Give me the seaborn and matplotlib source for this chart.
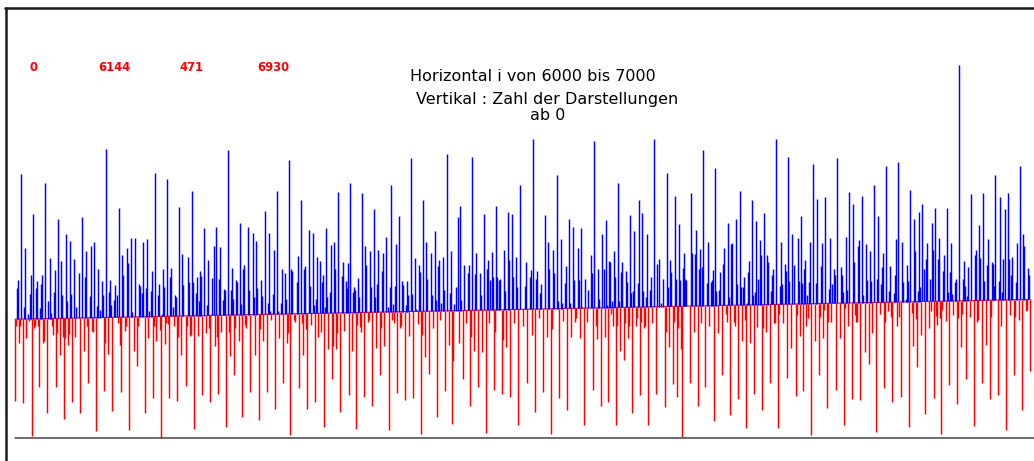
import numpy as np
import matplotlib
matplotlib.use("Agg")
import matplotlib.pyplot as plt
import seaborn as sns
from matplotlib.lines import Line2D

# ---------------- data ----------------
i_start, i_end = 6000, 7000
base_start, base_end = 150, 175          # reference line the bars start from

# values above the reference line (blue)
blue_i = [
    6002, 6003, 6006, 6009, 6010, 6013, 6015, 6016, 6018, 6021,
    6022, 6025, 6026, 6027, 6030, 6033, 6034, 6035, 6038, 6039,
    6042, 6045, 6046, 6050, 6051, 6054, 6055, 6058, 6060, 6063,
    6066, 6069, 6070, 6074, 6075, 6078, 6081, 6082, 6084, 6086,
    6087, 6090, 6093, 6094, 6095, 6098, 6099, 6100, 6102, 6105,
    6106, 6110, 6111, 6114, 6115, 6118, 6122, 6123, 6125, 6126,
    6129, 6130, 6132, 6134, 6135,
    6138, 6141, 6142, 6145, 6146, 6147, 6150, 6153, 6154, 6156,
    6158, 6159, 6162, 6165, 6166, 6170, 6171, 6174, 6175, 6178,
    6179, 6181, 6182, 6183, 6186, 6189, 6190, 6194, 6196, 6198,
    6201, 6202, 6205, 6206, 6207, 6210, 6213, 6214, 6215, 6218,
    6219, 6222, 6223, 6225, 6226, 6230, 6231, 6234, 6235, 6237,
    6238, 6242, 6243, 6246, 6249, 6250, 6251, 6254, 6255, 6258,
    6259, 6262, 6263, 6266, 6267, 6270, 6272, 6273, 6278, 6279,
    6282, 6285, 6286, 6290, 6291, 6294, 6295, 6297, 6298, 6300,
    6302, 6303, 6305, 6306, 6307, 6310, 6311, 6314, 6315, 6318,
    6322, 6323, 6326, 6327, 6328, 6330, 6333, 6334, 6335, 6338,
    6339, 6342, 6345, 6346, 6350, 6351, 6354, 6355, 6357, 6358,
    6362, 6363, 6366, 6367, 6369, 6370, 6372, 6374, 6375, 6378,
    6381, 6382, 6385, 6386, 6387, 6390, 6391, 6394, 6395, 6398,
    6399, 6402, 6405, 6406, 6410, 6411, 6414, 6415, 6417, 6418,
    6420, 6422, 6423,
    6426, 6429, 6430, 6433, 6434, 6436, 6438, 6439, 6442, 6446,
    6447, 6450, 6453, 6454, 6458, 6459, 6462, 6465, 6466, 6468,
    6470, 6471, 6474, 6475, 6477, 6478, 6482, 6483, 6486, 6487,
    6490, 6491, 6494, 6495, 6498, 6502, 6503, 6507, 6508, 6510,
    6513, 6514, 6517, 6518, 6522, 6525, 6526, 6530, 6531, 6534,
    6535, 6538, 6539, 6542, 6543, 6546, 6547, 6550, 6551, 6555,
    6556, 6558, 6559, 6562, 6565,
    6567, 6568, 6570, 6574, 6575, 6578, 6580, 6582, 6583, 6585,
    6586, 6588, 6590, 6591, 6594, 6595, 6597, 6598, 6602, 6603,
    6606, 6607, 6609, 6610, 6614, 6615, 6618, 6619, 6622, 6623,
    6626, 6627, 6630, 6633, 6634, 6636, 6638, 6642, 6643, 6645,
    6646, 6650, 6651, 6654, 6655, 6658, 6659, 6660, 6661, 6666,
    6667, 6670, 6671, 6674, 6675, 6677, 6678, 6682, 6683, 6686,
    6687, 6688, 6690, 6691, 6694, 6695, 6698, 6699, 6702, 6703,
    6705, 6706,
    6710, 6711, 6714, 6715, 6717, 6718, 6721, 6722, 6723, 6726,
    6727, 6729, 6730, 6732, 6734, 6735, 6738, 6741, 6742, 6745,
    6746, 6747, 6750, 6754, 6755, 6756, 6759, 6760, 6762, 6763,
    6766, 6767, 6771, 6772, 6774, 6775, 6777, 6778, 6780, 6782,
    6783, 6786, 6789, 6790, 6794, 6795, 6798, 6802, 6803, 6805,
    6807, 6808, 6810, 6814, 6815, 6816, 6819, 6820, 6822, 6826,
    6827, 6831, 6832, 6834, 6835, 6838, 6839, 6842, 6843, 6846,
    6849, 6850,
    6853, 6854, 6855, 6858, 6861, 6862, 6866, 6867, 6868, 6870,
    6874, 6875, 6878, 6879, 6880, 6882, 6886, 6887, 6890, 6891,
    6892, 6894, 6896, 6898, 6899, 6901, 6903, 6904, 6906, 6909,
    6910, 6914, 6915, 6918, 6919, 6921, 6922, 6923, 6926, 6927,
    6930, 6934, 6935, 6936, 6938, 6939, 6942, 6946, 6947, 6950,
    6951, 6954, 6955, 6958, 6959, 6963, 6964, 6965, 6966, 6969,
    6970, 6972, 6973, 6975, 6978, 6979, 6981, 6982, 6986, 6987,
    6990, 6993, 6994, 6998, 6999,
]
blue_v = [
    189, 200, 333, 165, 240, 157, 182, 206, 283, 189,
    198, 164, 195, 206, 322, 173, 227, 158, 184, 212,
    277, 224, 180, 258, 173, 249, 182, 226, 166, 208,
    279, 203, 236, 179, 242, 248, 167, 214, 161, 198,
    180, 365, 184, 200, 168, 174, 193, 181, 291, 231,
    206, 240, 221, 253, 159, 253, 194, 192, 183, 247,
    189, 251, 160, 186, 211,
    335, 181, 194, 157, 213, 191, 327, 203, 215, 166,
    181, 178, 292, 232, 193, 229, 197, 312, 197, 183,
    203, 173, 211, 205, 265, 168, 225, 202, 243, 267,
    201, 241, 174, 188, 187, 364, 187, 215, 176, 199,
    197, 272, 169, 214, 218, 267, 187, 259, 178, 249,
    190, 199, 179, 286, 171, 259, 160, 182, 238, 312,
    160, 171, 214, 208, 176, 351, 214, 211, 197, 230,
    300, 214, 217, 262, 192, 259, 168, 176, 229, 223,
    197, 206, 166, 265, 178, 184, 244, 248, 214, 310,
    204, 222, 198, 189, 221, 322, 184, 191, 187, 202,
    178, 309, 242, 218, 236, 191, 289, 178, 195, 237,
    211, 233, 254, 166, 191, 320, 169, 192, 245, 280,
    198, 193, 168, 198, 181, 353, 182, 227, 163, 219,
    210, 300, 248, 201, 234, 181, 261, 174, 217, 225,
    170, 229, 187,
    359, 183, 236, 169, 191, 279, 293, 174, 219, 208,
    219, 355, 207, 234, 208, 180, 283, 214, 225, 199,
    235, 203, 293, 203, 199, 201, 237, 186, 285, 225,
    283, 203, 229, 191, 320, 192, 222, 203, 212, 377,
    201, 211, 183, 194, 282, 248, 213, 237, 208, 332,
    173, 251, 171, 196, 217, 277, 170, 267, 199, 240,
    199, 265, 166, 201, 187,
    231, 208, 375, 213, 176, 258, 213, 275, 168, 223,
    222, 173, 236, 203, 322, 173, 210, 222, 211, 197,
    282, 183, 185, 261, 196, 301, 284, 185, 178, 258,
    187, 203, 377, 220, 226, 170, 201, 334, 191, 225,
    209, 306, 201, 270, 199, 215, 233, 201, 199, 309,
    233, 232, 263, 213, 239, 216, 364, 196, 248, 197,
    199, 212, 341, 186, 187, 210, 220, 240, 272, 178,
    245, 246,
    276, 194, 312, 191, 191, 203, 170, 210, 223, 301,
    181, 184, 274, 201, 250, 231, 284, 231, 222, 186,
    206, 213, 377, 192, 248, 194, 220, 211, 355, 198,
    258, 218, 253, 198, 280, 196, 213, 225, 181, 197,
    248, 346, 196, 302, 217, 246, 304, 188, 252, 194,
    213, 206, 353, 216, 206, 184, 254, 187, 310, 296,
    222, 243, 250, 306, 181, 245, 200, 236, 198, 320,
    201, 280,
    194, 216, 234, 343, 186, 217, 183, 206, 251, 349,
    248, 197, 176, 218, 198, 313, 276, 236, 185, 285,
    191, 295, 213, 226, 246, 201, 271, 238, 291, 226,
    253, 211, 231, 291, 184, 210, 246, 182, 197, 201,
    471, 201, 223, 192, 179, 216, 308, 231, 237, 269,
    227, 309, 198, 219, 251, 222, 220, 192, 332, 198,
    304, 184, 226, 289, 309, 226, 206, 229, 197, 246,
    344, 257, 242, 215, 206,
]

# values below the reference line (red)
red_i = [
    6000, 6001, 6004, 6005, 6008, 6011, 6014, 6017, 6019, 6020,
    6023, 6024, 6028, 6029, 6032, 6036, 6037, 6040, 6041, 6044,
    6047, 6048, 6049, 6052, 6053, 6056, 6059, 6064, 6068, 6071,
    6072, 6076, 6077, 6080, 6088, 6089, 6092, 6096, 6101, 6103,
    6104, 6108, 6109, 6112, 6117, 6120, 6121, 6128, 6131, 6136,
    6137,
    6139, 6143, 6144, 6148, 6149, 6151, 6152, 6157, 6160, 6161,
    6164, 6168, 6169, 6172, 6173, 6176, 6180, 6184, 6188, 6191,
    6192, 6197, 6199, 6200, 6203, 6208, 6211, 6212, 6216, 6217,
    6221, 6224, 6227, 6228, 6232, 6236, 6240, 6241, 6244, 6248,
    6252, 6256, 6260, 6264, 6268, 6269, 6271, 6275, 6276, 6280,
    6283, 6284, 6287, 6288, 6292, 6296, 6299, 6301, 6304, 6308,
    6312, 6313, 6316, 6317, 6320, 6324, 6329, 6332, 6336, 6337,
    6340, 6341, 6344, 6348, 6349, 6352, 6356, 6360, 6361, 6364,
    6368, 6371, 6373, 6376, 6379, 6380, 6384, 6388, 6392, 6397,
    6400, 6401, 6404, 6408, 6412, 6416, 6419,
    6424, 6428, 6431, 6432, 6437, 6441, 6444, 6448, 6449, 6452,
    6456, 6460, 6464, 6467, 6472, 6473, 6480, 6481, 6484, 6488,
    6492, 6496, 6500, 6504, 6509, 6512, 6516, 6520, 6524, 6528,
    6529, 6536, 6540, 6544, 6548, 6552, 6553, 6557, 6561, 6564,
    6569, 6572, 6573, 6577, 6581, 6584, 6587, 6589, 6592, 6593,
    6596, 6600, 6601, 6604, 6605, 6608, 6612, 6613, 6616, 6617,
    6620, 6621, 6624, 6628, 6632, 6640, 6641, 6644, 6648, 6649,
    6652, 6653, 6656, 6657, 6665, 6669, 6673, 6676, 6680, 6684,
    6689, 6693, 6697, 6700, 6701, 6704, 6708,
    6709, 6712, 6716, 6719, 6720, 6724, 6728, 6731, 6736, 6737,
    6740, 6744, 6748, 6749, 6752, 6753, 6757, 6761, 6765, 6769,
    6770, 6773, 6776, 6779, 6781, 6784, 6788, 6792, 6793, 6796,
    6797, 6800, 6801, 6804, 6809, 6813, 6817, 6818, 6821, 6825,
    6828, 6829, 6830, 6833, 6837, 6841, 6844, 6848,
    6852, 6856, 6857, 6860, 6863, 6864, 6869, 6871, 6873, 6881,
    6884, 6885, 6888, 6889, 6893, 6897, 6900, 6902, 6905, 6907,
    6908, 6911, 6912, 6913, 6917, 6920, 6924, 6928, 6929, 6932,
    6933, 6937, 6941, 6945, 6948, 6949, 6953, 6957, 6961, 6962,
    6968, 6971, 6976, 6980, 6984, 6985, 6989, 6992, 6996, 6997,
    7000,
]
red_v = [
    47, 141, 120, 141, 44, 126, 148, 2, 139, 141,
    141, 64, 120, 122, 31, 141, 130, 64, 133, 105,
    127, 24, 126, 117, 131, 45, 127, 31, 110, 141,
    69, 135, 134, 9, 59, 120, 106, 34, 145, 117,
    58, 135, 141, 10, 110, 91, 141, 32, 126, 50,
    141,
    123, 136, 0, 119, 145, 144, 50, 141, 47, 127,
    105, 66, 141, 129, 130, 11, 129, 54, 132, 139,
    46, 116, 128, 55, 134, 14, 134, 104, 79, 139,
    122, 27, 143, 139, 58, 105, 23, 137, 123, 58,
    149, 36, 126, 70, 120, 132, 4, 149, 147, 63,
    145, 105, 137, 37, 143, 45, 127, 134, 14, 113,
    75, 116, 113, 132, 33, 135, 54, 110, 11, 143,
    140, 134, 52, 146, 149, 40, 114, 80, 139, 116,
    10, 149, 145, 57, 139, 141, 48, 129, 50, 144,
    5, 130, 102, 81, 139, 27, 149,
    59, 117, 18, 97, 120, 75, 145, 40, 128, 110,
    64, 108, 6, 145, 61, 134, 56, 124, 115, 52,
    145, 16, 141, 69, 130, 33, 151, 58, 128, 5,
    137, 50, 148, 35, 128, 146, 151, 126, 16, 147,
    61, 141, 125, 40, 128, 46, 157, 141, 16, 141,
    110, 98, 145, 126, 141, 32, 141, 151, 54, 147,
    139, 142, 16, 145, 56, 39, 134, 115, 68, 147,
    52, 139, 113, 1, 70, 134, 40, 145, 64, 141,
    21, 132, 80, 157, 147, 29, 147,
    142, 49, 122, 149, 13, 120, 56, 140, 35, 139,
    134, 69, 145, 145, 13, 157, 145, 76, 114, 53,
    155, 129, 59, 141, 152, 4, 122, 80, 153, 126,
    162, 38, 147, 147, 61, 126, 17, 164, 141, 49,
    155, 147, 146, 48, 109, 94, 132, 8,
    157, 63, 146, 160, 153, 46, 141, 153, 52, 14,
    158, 116, 150, 90, 130, 30, 139, 160, 51, 154,
    143, 151, 5, 161, 148, 67, 155, 43, 151, 115,
    157, 75, 153, 15, 147, 149, 70, 117, 49, 153,
    54, 141, 10, 155, 80, 153, 149, 35, 160, 162,
    84,
]

stat_labels = ["0", "6144", "471", "6930"]
title_lines = ["Horizontal i von 6000 bis 7000",
               "Vertikal : Zahl der Darstellungen",
               "ab 0"]

# ---------------- figure ----------------
sns.set_style("white")
plt.rcParams["font.family"] = ["DejaVu Sans"]

W, H = 1034, 461
fig = plt.figure(figsize=(W / 100, H / 100), dpi=100)
fig.patch.set_facecolor("white")
ax = fig.add_axes([0, 0, 1, 1])

# scale: i -> pixels, value -> pixels
x0_px, px_per_i = 15.0, 1.015
y0_px, px_per_v = 438.0, 0.792
ax.set_xlim(i_start - x0_px / px_per_i, i_start + (W - x0_px) / px_per_i)
ax.set_ylim((y0_px - H) / px_per_v, y0_px / px_per_v)
ax.axis("off")


def base_at(i):
    i = np.asarray(i, dtype=float)
    return base_start + (base_end - base_start) * (i - i_start) / (i_end - i_start)


bi = np.array(blue_i)
bv = np.array(blue_v)
ri = np.array(red_i)
rv = np.array(red_v)

# reference line
ax.plot([i_start, i_end], [base_start, base_end], color="#ff0000", lw=0.8, zorder=2)

ax.vlines(bi, base_at(bi), bv, colors="#0000ff", linewidth=1.05, zorder=3)
ax.vlines(ri, rv, base_at(ri), colors="#ff0000", linewidth=1.05, zorder=3)

# zero line at the bottom
ax.plot([i_start - 0.1, ax.get_xlim()[1]], [0, 0], color="#444444", lw=1.1, zorder=1)

# window frame (left and top)
fig.add_artist(Line2D([6 / W, 6 / W], [0, 1 - 8 / H], transform=fig.transFigure,
                      color="#1a1a1a", lw=1.8))
fig.add_artist(Line2D([5 / W, 1], [1 - 8.5 / H, 1 - 8.5 / H], transform=fig.transFigure,
                      color="#1a1a1a", lw=1.8))

# red statistics labels
for txt, xc in zip(stat_labels, [33, 114, 191, 273]):
    fig.text(xc / W, 1 - 71 / H, txt, ha="center", va="baseline",
             color="#ff0000", fontsize=8.3, fontweight="bold")

# title lines
for txt, xc, yb in zip(title_lines, [533, 547, 548], [81, 104, 120]):
    fig.text(xc / W, 1 - yb / H, txt, ha="center", va="baseline",
             color="black", fontsize=11.5)

fig.savefig("out.png", dpi=100, facecolor="white")
